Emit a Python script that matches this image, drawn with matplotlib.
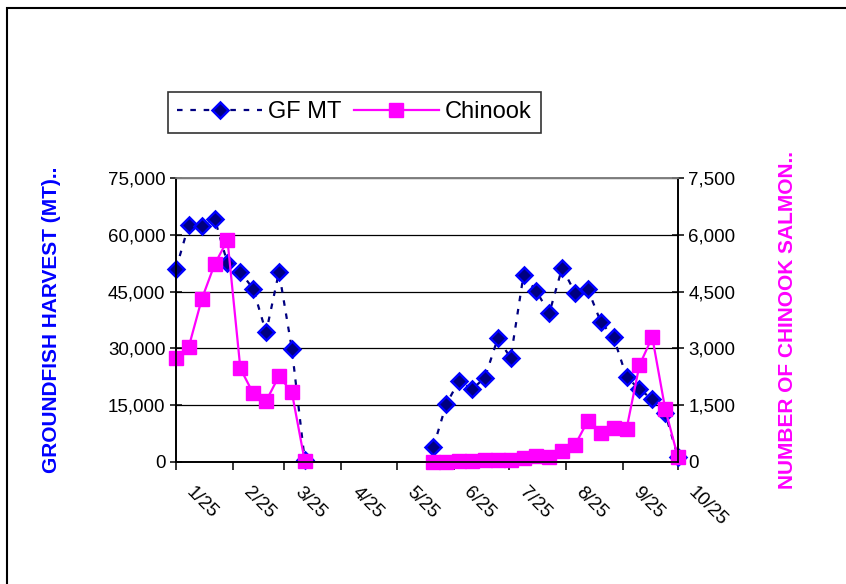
import numpy as np
import pandas as pd
import matplotlib
matplotlib.use("Agg")
import matplotlib.pyplot as plt
import matplotlib.dates as mdates
from matplotlib.ticker import FuncFormatter, MultipleLocator
from matplotlib.transforms import ScaledTranslation
from matplotlib.patches import Rectangle

plt.rcParams['font.family'] = ['Liberation Sans', 'DejaVu Sans']

# winter season (weekly)
dates_a = ["2003-01-25", "2003-02-01", "2003-02-08", "2003-02-15", "2003-02-22",
           "2003-03-01", "2003-03-08", "2003-03-15", "2003-03-22", "2003-03-29",
           "2003-04-05"]
gf_a = [51000, 62700, 62400, 64300, 52500, 50200, 45700, 34200, 50200, 29900, 500]
chin_a = [2750, 3050, 4300, 5220, 5860, 2470, 1810, 1610, 2270, 1840, 30]

# summer/fall season (weekly)
dates_b = ["2003-06-14", "2003-06-21", "2003-06-28", "2003-07-05", "2003-07-12",
           "2003-07-19", "2003-07-26", "2003-08-02", "2003-08-09", "2003-08-16",
           "2003-08-23", "2003-08-30", "2003-09-06", "2003-09-13", "2003-09-20",
           "2003-09-27", "2003-10-04", "2003-10-11", "2003-10-18", "2003-10-25"]
gf_b = [4000, 15300, 21500, 19200, 22300, 32700, 27500, 49400, 45100, 39300,
        51300, 44700, 45600, 37000, 32900, 22500, 19200, 16600, 12900, 1300]
chin_b = [0, 10, 20, 30, 40, 50, 60, 100, 160, 140,
          300, 450, 1090, 770, 900, 870, 2550, 3300, 1410, 120]

xtick_dates = ["2003-%02d-25" % m for m in range(1, 11)]

da = pd.to_datetime(dates_a)
db = pd.to_datetime(dates_b)

fig = plt.figure(figsize=(8.46, 5.84), dpi=100)
ax = fig.add_axes([176/846, 1-462/584, (678-176)/846, (462-178)/584])
ax2 = ax.twinx()

navy = '#000080'
blue = '#0000FF'
mag = '#FF00FF'

gf_style = dict(color=navy, linestyle=(0, (2.5, 3.5)), linewidth=1.6, marker='D',
                markersize=8, markerfacecolor=navy, markeredgecolor=blue,
                markeredgewidth=1.8, clip_on=False)
ch_style = dict(color=mag, linestyle='-', linewidth=1.6, marker='s',
                markersize=10, markerfacecolor=mag, markeredgecolor=mag,
                clip_on=False)

l1, = ax.plot(da, gf_a, label='GF MT', **gf_style)
ax.plot(db, gf_b, **gf_style)
l2, = ax2.plot(da, chin_a, label='Chinook', **ch_style)
ax2.plot(db, chin_b, **ch_style)

ax.set_xlim(pd.Timestamp("2003-01-25"), pd.Timestamp("2003-10-25"))
ax.set_ylim(0, 75000)
ax2.set_ylim(0, 7500)
ax.yaxis.set_major_locator(MultipleLocator(15000))
ax2.yaxis.set_major_locator(MultipleLocator(1500))
fmt = FuncFormatter(lambda v, p: "{:,.0f}".format(v))
ax.yaxis.set_major_formatter(fmt)
ax2.yaxis.set_major_formatter(fmt)

ax.set_xticks(pd.to_datetime(xtick_dates))
ax.xaxis.set_major_formatter(FuncFormatter(
    lambda v, p: "%d/%d" % (mdates.num2date(v).month, mdates.num2date(v).day)))

ax.grid(axis='y', color='black', linewidth=0.9)
ax.set_axisbelow(True)

for a in (ax, ax2):
    for s in a.spines.values():
        s.set_linewidth(1.2)
        s.set_color('black')
    a.spines['top'].set_color('#808080')

ax.tick_params(axis='y', direction='inout', length=9, width=1.1, labelsize=13.5, pad=3)
ax2.tick_params(axis='y', direction='inout', length=9, width=1.1, labelsize=13.5, pad=3)
ax.tick_params(axis='x', direction='out', length=6, width=1.1, labelsize=13.5, pad=3)

for lab in ax.get_xticklabels():
    lab.set_rotation(-45)
    lab.set_ha('left')
    lab.set_va('top')
    lab.set_transform(lab.get_transform() + ScaledTranslation(5/72, -7/72, fig.dpi_scale_trans))

ax.set_ylabel('GROUNDFISH HARVEST (MT)..', color=blue, fontsize=15, fontweight='bold')
ax.yaxis.set_label_coords(61/846, 1-320/584, transform=fig.transFigure)
ax2.set_ylabel('NUMBER OF CHINOOK SALMON..', color=mag, fontsize=15, fontweight='bold',
               rotation=90)
ax2.yaxis.set_label_coords(778/846, 1-320/584, transform=fig.transFigure)

leg = fig.legend([l1, l2], ['GF MT', 'Chinook'], loc='upper left',
                 bbox_to_anchor=(168/846, 1-92/584), ncol=2, fontsize=17,
                 frameon=True, fancybox=False, edgecolor='black', handlelength=3.6,
                 columnspacing=0.5, handletextpad=0.25, borderpad=0.4, borderaxespad=0)
leg.get_frame().set_linewidth(1.2)

fig.patches.append(Rectangle((7/846, -0.1), 2, 1 - 8.5/584 + 0.1, transform=fig.transFigure,
                             fill=False, edgecolor='black', linewidth=1.5))

fig.savefig('out.png', dpi=100)
